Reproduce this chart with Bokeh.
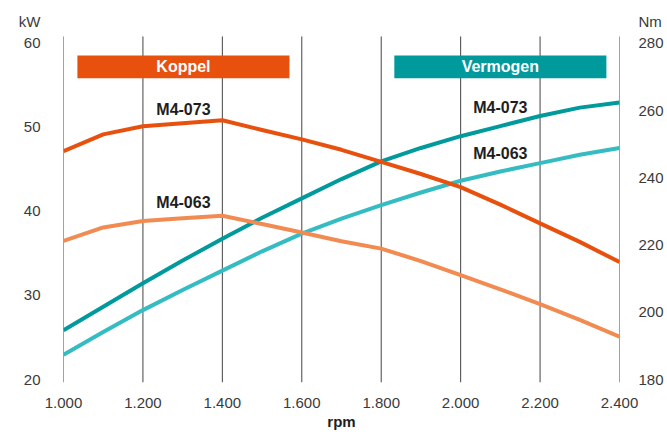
from bokeh.plotting import figure
from bokeh.models import Range1d, LinearAxis, FixedTicker, BoxAnnotation, Label, CustomJSTickFormatter
from bokeh.embed import file_html
from bokeh.resources import INLINE

# ---- data ----
rpm = [1000, 1100, 1200, 1300, 1400, 1500, 1600, 1700, 1800, 1900, 2000, 2100, 2200, 2300, 2400]
koppel_m4_073 = [247.8, 252.8, 255.2, 256.1, 257.0, 254.1, 251.3, 248.2, 244.6, 241.0, 237.1, 231.9, 226.3, 220.8, 214.8]
koppel_m4_063 = [221.1, 225.1, 227.0, 227.8, 228.6, 226.1, 223.6, 221.0, 218.8, 215.1, 210.9, 206.7, 202.3, 197.6, 192.6]
vermogen_m4_073 = [25.8, 28.6, 31.4, 34.1, 36.7, 39.2, 41.5, 43.8, 45.9, 47.5, 48.9, 50.1, 51.3, 52.3, 52.9]
vermogen_m4_063 = [22.9, 25.6, 28.2, 30.6, 32.9, 35.2, 37.3, 39.1, 40.7, 42.2, 43.6, 44.7, 45.7, 46.7, 47.5]

x_ticks = [1000, 1200, 1400, 1600, 1800, 2000, 2200, 2400]
kw_ticks = [20, 30, 40, 50, 60]
nm_ticks = [180, 200, 220, 240, 260, 280]
left_unit = "kW"
right_unit = "Nm"
x_unit = "rpm"

# ---- styles / positions ----
FONT = "Liberation Sans"
TXT = "#3a3a3a"
DARK = "#1e1e1e"
ORANGE = "#E8500E"
ORANGE_L = "#F28B52"
TEAL = "#009A9C"
TEAL_L = "#35BCC2"
KW_RANGE = (19.585, 62.671)
NM_RANGE = (178.961, 286.677)
KW_UNIT_POS = 62.6
NM_UNIT_POS = 286.5
GRID_BOTTOM, GRID_TOP = 19.585, 60.77

p = figure(width=667, height=432, output_backend="svg", toolbar_location=None,
           x_range=Range1d(1000, 2400), y_range=Range1d(*KW_RANGE),
           min_border_left=63, min_border_right=48, min_border_top=20, min_border_bottom=49)
p.extra_y_ranges = {"nm": Range1d(*NM_RANGE)}
p.outline_line_color = None
p.background_fill_color = "white"
p.border_fill_color = "white"
p.xgrid.grid_line_color = None
p.ygrid.grid_line_color = None

def style_axis(ax, standoff):
    ax.axis_line_color = None
    ax.major_tick_line_color = None
    ax.minor_tick_line_color = None
    ax.major_tick_out = 0
    ax.major_tick_in = 0
    ax.major_label_standoff = standoff
    ax.major_label_text_font = FONT
    ax.major_label_text_font_size = "15px"
    ax.major_label_text_color = TXT

xa = p.xaxis[0]
xa.ticker = FixedTicker(ticks=x_ticks)
xa.formatter = CustomJSTickFormatter(code="return (tick/1000).toFixed(3);")
style_axis(xa, 15)
xa.axis_label = x_unit
xa.axis_label_text_font = FONT
xa.axis_label_text_font_size = "15px"
xa.axis_label_text_font_style = "bold"
xa.axis_label_text_color = DARK
xa.axis_label_standoff = 2

ya = p.yaxis[0]
ya.ticker = FixedTicker(ticks=kw_ticks + [KW_UNIT_POS])
ya.formatter = CustomJSTickFormatter(args=dict(unit=left_unit, lim=kw_ticks[-1]),
                                     code="return tick > lim ? unit : tick.toFixed(0);")
style_axis(ya, 23)

ra = LinearAxis(y_range_name="nm", ticker=FixedTicker(ticks=nm_ticks + [NM_UNIT_POS]),
                formatter=CustomJSTickFormatter(args=dict(unit=right_unit, lim=nm_ticks[-1]),
                                                code="return tick > lim ? unit : tick.toFixed(0);"))
style_axis(ra, 19)
p.add_layout(ra, "right")

# vertical grid lines at the x ticks
p.segment(x0=x_ticks, x1=x_ticks, y0=GRID_BOTTOM, y1=GRID_TOP, line_color="#444444", line_width=1)

# curves
p.line(rpm, vermogen_m4_063, line_color=TEAL_L, line_width=4, line_join="round")
p.line(rpm, vermogen_m4_073, line_color=TEAL, line_width=4, line_join="round")
p.line(rpm, koppel_m4_063, line_color=ORANGE_L, line_width=4, line_join="round", y_range_name="nm")
p.line(rpm, koppel_m4_073, line_color=ORANGE, line_width=4, line_join="round", y_range_name="nm")

# banners
p.add_layout(BoxAnnotation(left=1035, right=1569, bottom=55.8, top=58.5,
                           fill_color=ORANGE, fill_alpha=1, line_color=None))
p.add_layout(BoxAnnotation(left=1833, right=2367, bottom=55.8, top=58.5,
                           fill_color=TEAL, fill_alpha=1, line_color=None))

def lab(x, y, t, color=DARK, size="16px"):
    p.add_layout(Label(x=x, y=y, text=t, text_align="center", text_baseline="middle",
                       text_font=FONT, text_font_size=size, text_color=color,
                       text_font_style="bold"))

lab(1302, 57.15, "Koppel", color="white")
lab(2100, 57.15, "Vermogen", color="white")
lab(1302, 52.1, "M4-073")
lab(1302, 40.95, "M4-063")
lab(2100, 52.35, "M4-073")
lab(2100, 46.9, "M4-063")

open("out.html", "w").write(file_html(p, INLINE))
